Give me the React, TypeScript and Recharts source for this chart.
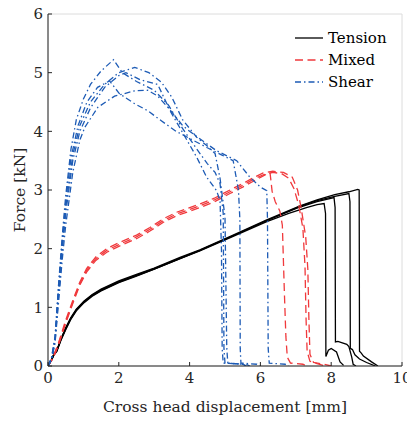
import React from 'react';
import { LineChart, Line, XAxis, YAxis, CartesianGrid } from 'recharts';

type P = [number, number];

const xTicks = [0, 2, 4, 6, 8, 10];
const yTicks = [0, 1, 2, 3, 4, 5, 6];
const legendLabels = ['Tension', 'Mixed', 'Shear'];

// Tension specimens (black solid)
const tension1: P[] = [[0,0],[0.1,0.1],[0.17,0.2],[0.25,0.26],[0.36,0.44],[0.5,0.63],[0.64,0.8],[0.8,0.95],[1.02,1.09],[1.25,1.2],[1.5,1.29],[2,1.43],[2.5,1.54],[3,1.65],[3.73,1.83],[4.29,1.96],[5.23,2.21],[6.18,2.46],[6.8,2.6],[7.3,2.7],[7.6,2.75],[7.8,2.77],[7.84,2.6],[7.85,0.16],[7.92,0.27],[8,0.3],[8.15,0.24],[8.25,0.07],[8.35,0.01]];
const tension2: P[] = [[0,0],[0.1,0.11],[0.17,0.21],[0.25,0.27],[0.36,0.45],[0.5,0.64],[0.64,0.81],[0.8,0.96],[1.02,1.1],[1.25,1.21],[1.5,1.3],[2,1.44],[2.5,1.55],[3,1.66],[3.73,1.84],[4.29,1.97],[5.23,2.22],[6.18,2.48],[7.12,2.71],[7.6,2.8],[8.08,2.87],[8.11,2.7],[8.12,0.41],[8.19,0.42],[8.44,0.37],[8.5,0.33],[8.58,0.15],[8.62,0.03],[8.7,0]];
const tension3: P[] = [[0,0],[0.1,0.1],[0.17,0.19],[0.25,0.25],[0.36,0.43],[0.5,0.62],[0.64,0.79],[0.8,0.94],[1.02,1.08],[1.25,1.19],[1.5,1.28],[2,1.42],[2.5,1.53],[3,1.65],[3.73,1.83],[4.29,1.97],[5.23,2.22],[6.18,2.48],[7.12,2.72],[7.6,2.82],[8.1,2.89],[8.5,2.94],[8.53,2.8],[8.54,0.3],[8.6,0.28],[8.67,0.19],[8.8,0.12],[9,0.06],[9.25,0]];
const tension4: P[] = [[0,0],[0.1,0.11],[0.17,0.2],[0.25,0.26],[0.36,0.45],[0.5,0.65],[0.64,0.82],[0.8,0.97],[1.02,1.11],[1.25,1.22],[1.5,1.31],[2,1.45],[2.5,1.56],[3,1.67],[3.73,1.85],[4.29,1.98],[5.23,2.23],[6.18,2.49],[7.12,2.73],[7.6,2.83],[8.1,2.92],[8.5,2.97],[8.75,3.01],[8.79,3],[8.8,0.25],[8.85,0.22],[8.91,0.17],[9.14,0.07],[9.32,0]];

// Mixed-mode specimens (red dashed)
const mixed1: P[] = [[0,0],[0.15,0.14],[0.3,0.36],[0.5,0.73],[0.72,1.1],[0.9,1.38],[1.09,1.6],[1.35,1.8],[1.66,1.94],[2,2.04],[2.5,2.17],[2.88,2.3],[3.26,2.45],[3.63,2.56],[4.29,2.7],[4.7,2.8],[5.14,2.94],[5.5,3.05],[5.8,3.15],[6.08,3.24],[6.27,3.3],[6.3,3.15],[6.33,2.98],[6.42,2.8],[6.55,2.64],[6.62,2.4],[6.65,1.8],[6.68,1.2],[6.72,0.5],[6.76,0.15],[6.85,0.05],[7.2,0.03],[7.3,0]];
const mixed2: P[] = [[0,0],[0.15,0.15],[0.3,0.38],[0.5,0.75],[0.72,1.12],[0.9,1.4],[1.09,1.63],[1.35,1.83],[1.66,1.97],[2,2.07],[2.5,2.2],[2.88,2.33],[3.26,2.48],[3.63,2.59],[4.29,2.73],[4.7,2.83],[5.14,2.97],[5.5,3.08],[5.8,3.18],[6.08,3.26],[6.35,3.3],[6.6,3.28],[6.8,3.2],[6.95,3.02],[7.08,2.75],[7.2,2.35],[7.26,1.7],[7.29,0.8],[7.32,0.25],[7.4,0.08],[7.6,0.04],[7.85,0]];
const mixed3: P[] = [[0,0],[0.15,0.16],[0.3,0.4],[0.5,0.78],[0.72,1.15],[0.9,1.43],[1.09,1.66],[1.35,1.86],[1.66,2],[2,2.1],[2.5,2.23],[2.88,2.36],[3.26,2.51],[3.63,2.62],[4.29,2.76],[4.7,2.86],[5.14,3],[5.5,3.11],[5.8,3.21],[6.08,3.29],[6.35,3.32],[6.65,3.3],[6.9,3.22],[7.05,3],[7.15,2.7],[7.28,2.2],[7.34,1.65],[7.37,0.8],[7.4,0.2],[7.5,0.06],[7.8,0.03],[8,0]];

// Shear specimens (blue dash-dot)
const shear1: P[] = [[0,0],[0.1,0.15],[0.2,0.5],[0.3,1.4],[0.4,2.2],[0.5,2.9],[0.65,3.7],[0.8,4.2],[1,4.55],[1.2,4.8],[1.5,5.03],[1.85,5.22],[2.1,5],[2.5,4.85],[3,4.7],[3.4,4.45],[3.8,4.05],[4.2,3.7],[4.5,3.45],[4.72,3.3],[4.86,3.11],[4.95,2.6],[4.97,0.3],[5,0.05],[5.6,0.03],[5.7,0]];
const shear2: P[] = [[0,0],[0.1,0.12],[0.2,0.45],[0.3,1.3],[0.4,2.05],[0.5,2.7],[0.7,3.6],[0.9,4.1],[1.2,4.5],[1.6,4.8],[2,5],[2.45,5.09],[2.85,5],[3.2,4.84],[3.5,4.58],[3.8,4.2],[4.2,3.9],[4.5,3.75],[4.72,3.62],[4.86,3.2],[5,2.54],[5.05,0.3],[5.08,0.05],[5.5,0.03],[5.6,0]];
const shear3: P[] = [[0,0],[0.1,0.1],[0.2,0.4],[0.3,1.1],[0.4,1.8],[0.5,2.4],[0.7,3.3],[0.9,3.85],[1.04,4.07],[1.41,4.41],[1.88,4.6],[2.45,4.69],[2.82,4.7],[3.1,4.6],[3.4,4.4],[3.8,4.1],[4,4],[4.48,3.79],[4.76,3.67],[5.33,3.5],[5.7,3.22],[6,3.05],[6.18,2.99],[6.2,2.5],[6.22,0.3],[6.25,0.05],[6.7,0.03],[6.8,0]];
const shear4: P[] = [[0,0],[0.1,0.13],[0.2,0.48],[0.3,1.35],[0.4,2.1],[0.5,2.8],[0.65,3.55],[0.85,4.1],[1.1,4.5],[1.4,4.75],[1.74,4.86],[2.02,4.64],[2.45,4.47],[2.82,4.35],[3.2,4.18],[3.62,4],[4,3.88],[4.5,3.72],[4.9,3.6],[5.23,3.5],[5.38,3],[5.42,2.5],[5.43,0.3],[5.45,0.05],[5.9,0.03],[6,0]];
const shear5: P[] = [[0,0],[0.1,0.12],[0.2,0.42],[0.3,1.2],[0.4,1.95],[0.5,2.6],[0.7,3.5],[0.9,4],[1.2,4.4],[1.6,4.75],[2,4.95],[2.2,5],[2.6,4.88],[3.1,4.8],[3.45,4.35],[3.82,3.96],[4.2,3.56],[4.48,3.22],[4.76,2.99],[4.86,2.82],[4.9,2],[4.92,0.3],[4.95,0.05],[5.5,0.03],[5.6,0]];

const BLACK = '#000000';
const RED = '#f0393c';
const BLUE = '#1d5bb5';
const AXIS = '#262626';
const FONT = 'DejaVu Serif';

const groups = [
  { label: legendLabels[0], color: BLACK, dash: undefined as string | undefined, curves: [tension1, tension2, tension3, tension4] },
  { label: legendLabels[1], color: RED, dash: '8 4.5', curves: [mixed1, mixed2, mixed3] },
  { label: legendLabels[2], color: BLUE, dash: '6 3 1.5 3', curves: [shear1, shear2, shear3, shear4, shear5] },
];

const toPts = (a: P[]) => a.map(([x, y]) => ({ x, y }));

const YLabel = (props: any) => {
  const vb = props.viewBox || {};
  const cx = 20;
  const cy = (vb.y ?? 14) + (vb.height ?? 352) / 2;
  return (
    <text x={cx} y={cy} transform={`rotate(-90 ${cx} ${cy})`} textAnchor="middle" dominantBaseline="central"
      fill={AXIS} fontFamily={FONT} fontSize={15.5}>Force [kN]</text>
  );
};

export default function App() {
  const tickStyle = { fill: AXIS, fontSize: 15, fontFamily: FONT };
  return (
    <div style={{ position: 'relative', width: 415, height: 422, marginTop: -8, marginLeft: -8, fontFamily: FONT }}>
      <LineChart width={415} height={422} margin={{ top: 14, right: 13, left: 18, bottom: 8 }}>
        <CartesianGrid stroke="#dcdcdc" strokeWidth={1} />
        <XAxis xAxisId="b" type="number" dataKey="x" domain={[0, 10]} ticks={xTicks} interval={0}
          allowDataOverflow height={48} tickSize={-4} tickMargin={10} stroke={AXIS} tick={tickStyle}
          label={{ value: 'Cross head displacement [mm]', position: 'insideBottom', offset: 2, fill: AXIS, fontSize: 15.5, fontFamily: FONT }} />
        <XAxis xAxisId="t" orientation="top" type="number" dataKey="x" domain={[0, 10]} ticks={xTicks} interval={0}
          allowDataOverflow height={0} tickSize={-4} tick={false} stroke={AXIS} />
        <YAxis yAxisId="l" type="number" domain={[0, 6]} ticks={yTicks} interval={0} allowDataOverflow width={30}
          tickSize={-4} tickMargin={9} stroke={AXIS} tick={tickStyle} label={<YLabel />} />
        <YAxis yAxisId="r" orientation="right" type="number" domain={[0, 6]} ticks={yTicks} interval={0}
          allowDataOverflow width={0} tickSize={-4} tick={false} stroke={AXIS} />
        {groups.map((g, gi) =>
          g.curves.map((c, ci) => (
            <Line key={`${gi}-${ci}`} xAxisId="b" yAxisId="l" data={toPts(c)} dataKey="y" type="linear"
              stroke={g.color} strokeWidth={1.3} strokeDasharray={g.dash} dot={false} activeDot={false}
              isAnimationActive={false} />
          ))
        )}
      </LineChart>
      <div style={{ position: 'absolute', left: 290, top: 29, width: 109, height: 70, background: '#ffffff' }}>
        <svg width={109} height={70}>
          {groups.map((g, i) => (
            <g key={g.label}>
              <line x1={5} x2={33} y1={9 + i * 22} y2={9 + i * 22} stroke={g.color} strokeWidth={1.3} strokeDasharray={g.dash} />
              <text x={38} y={9 + i * 22} dominantBaseline="central" fontFamily={FONT} fontSize={15} fill="#000">{g.label}</text>
            </g>
          ))}
        </svg>
      </div>
    </div>
  );
}
